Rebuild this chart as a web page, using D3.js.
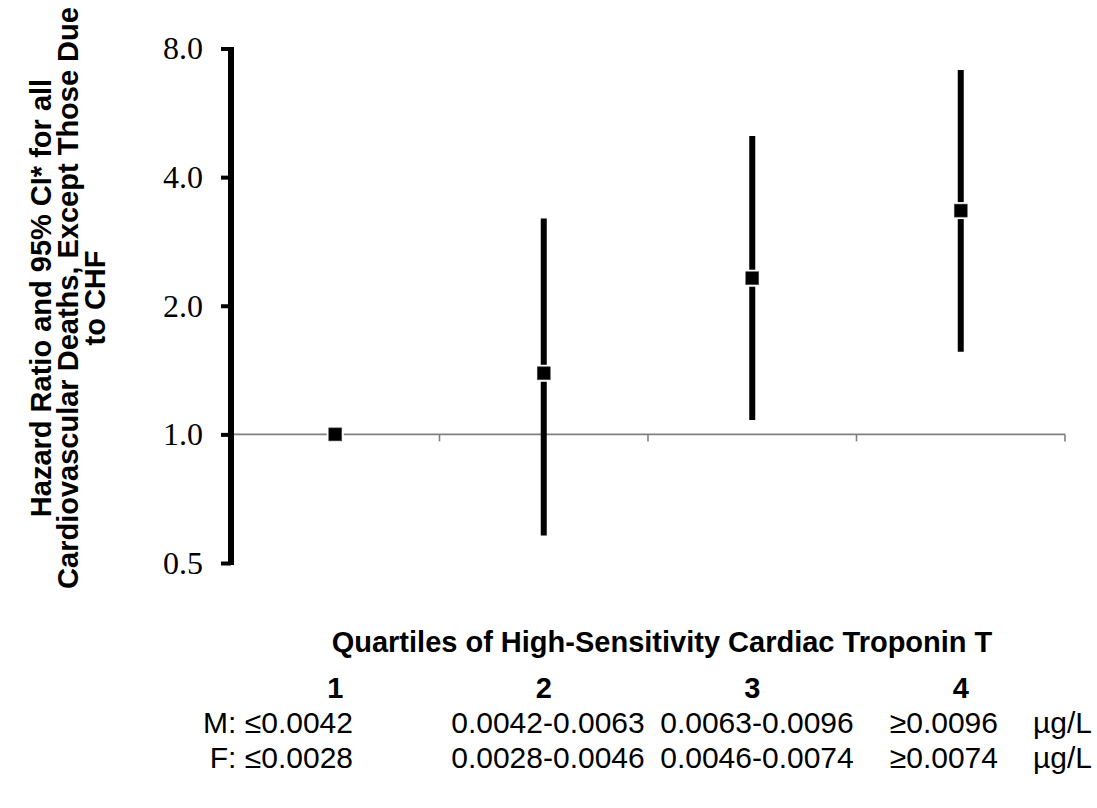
<!DOCTYPE html>
<html>
<head>
<meta charset="utf-8">
<script src="https://cdn.jsdelivr.net/npm/d3@7"></script>
<style>
  html, body { margin: 0; padding: 0; background: #fff; }
  svg { display: block; }
</style>
</head>
<body>
<svg id="chart" width="1097" height="808"></svg>
<script>
// ---- data ----
const quartiles = ["1", "2", "3", "4"];
const hazardRatio = [1.0, 1.39, 2.32, 3.34];
const ciLower = [null, 0.58, 1.08, 1.56];
const ciUpper = [null, 3.20, 4.99, 7.12];
const yTicks = [0.5, 1.0, 2.0, 4.0, 8.0];
const yTitleLines = ["Hazard Ratio and 95% CI* for all", "Cardiovascular Deaths, Except Those Due", "to CHF"];
const xTitle = "Quartiles of High-Sensitivity Cardiac Troponin T";
const maleRanges = ["M: \u22640.0042", "0.0042-0.0063", "0.0063-0.0096", "\u22650.0096"];
const femaleRanges = ["F: \u22640.0028", "0.0028-0.0046", "0.0046-0.0074", "\u22650.0074"];
const unitLabel = "\u00b5g/L";

const svg = d3.select("#chart");

const x = d3.scaleBand().domain(quartiles).range([231, 1065]).padding(0);
const y = d3.scaleLog().base(2).domain([0.5, 8]).range([563, 48.5]);

// horizontal reference (category) axis at HR = 1.0
const xAxisY = y(1.0);
const xAxis = d3.axisBottom(x).tickSize(7).tickFormat("");
const gx = svg.append("g").attr("transform", `translate(0,${xAxisY})`).call(xAxis);
gx.select(".domain").remove();
gx.selectAll(".tick").remove();
gx.append("line").attr("x1", x.range()[0]).attr("x2", x.range()[1])
  .attr("stroke", "#808080").attr("stroke-width", 1.6);
const boundaries = quartiles.map(q => x(q)).concat([x.range()[1]]);
gx.selectAll(".bnd").data(boundaries).enter().append("line")
  .attr("x1", d => d).attr("x2", d => d).attr("y1", 0).attr("y2", 7)
  .attr("stroke", "#808080").attr("stroke-width", 1.6);

// y axis
const yAxis = d3.axisLeft(y).tickValues(yTicks).tickSize(10).tickFormat(d3.format(".1f")).tickPadding(18);
const gy = svg.append("g").attr("transform", "translate(231,0)").call(yAxis);
gy.select(".domain").attr("d", `M0,${y(8) - 1.5}V${y(0.5) + 2}`)
  .attr("stroke", "#000").attr("stroke-width", 6);
gy.selectAll(".tick line").attr("stroke", "#000").attr("stroke-width", 4).attr("x2", -10);
gy.selectAll(".tick text")
  .attr("font-family", "'Liberation Serif', 'Times New Roman', serif")
  .attr("font-size", 32).attr("fill", "#000");

// error bars
const cx = q => x(q) + x.bandwidth() / 2;
const ci = quartiles.map((q, i) => ({ q, lo: ciLower[i], hi: ciUpper[i], hr: hazardRatio[i] }));
svg.append("g").selectAll("line").data(ci.filter(d => d.lo != null)).enter().append("line")
  .attr("x1", d => cx(d.q)).attr("x2", d => cx(d.q))
  .attr("y1", d => y(d.hi)).attr("y2", d => y(d.lo))
  .attr("stroke", "#000").attr("stroke-width", 6);

// markers
const mk = svg.append("g");
mk.selectAll("rect.bg").data(ci).enter().append("rect")
  .attr("x", d => cx(d.q) - 8.5).attr("y", d => y(d.hr) - 8.5)
  .attr("width", 17).attr("height", 17).attr("fill", "#fff");
mk.selectAll("rect.m").data(ci).enter().append("rect")
  .attr("x", d => cx(d.q) - 6.5).attr("y", d => y(d.hr) - 6.5)
  .attr("width", 13).attr("height", 13).attr("fill", "#000")
  .attr("stroke", "#555").attr("stroke-width", 0.6);

// y title
const yt = svg.append("text")
  .attr("transform", "translate(0,298) rotate(-90)")
  .attr("text-anchor", "middle")
  .attr("font-family", "'Liberation Sans', Arial, sans-serif")
  .attr("font-weight", "bold").attr("font-size", 29).attr("fill", "#000");
yTitleLines.forEach((t, i) => {
  yt.append("tspan").attr("x", 0).attr("y", 51 + i * 27).text(t);
});

// x title
svg.append("text").attr("x", 662).attr("y", 652)
  .attr("text-anchor", "middle")
  .attr("font-family", "'Liberation Sans', Arial, sans-serif")
  .attr("font-weight", "bold").attr("font-size", 29).attr("fill", "#000")
  .text(xTitle);

// quartile numbers
svg.append("g").selectAll("text").data(quartiles).enter().append("text")
  .attr("x", d => cx(d)).attr("y", 698)
  .attr("text-anchor", "middle")
  .attr("font-family", "'Liberation Sans', Arial, sans-serif")
  .attr("font-weight", "bold").attr("font-size", 29).attr("fill", "#000")
  .text(d => d);

// ranges table
const colAnchor = [353, 548, 757, 998];
const colAlign = ["end", "middle", "middle", "end"];
function rangeRow(vals, yy) {
  const g = svg.append("g")
    .attr("font-family", "'Liberation Sans', Arial, sans-serif")
    .attr("font-size", 30).attr("fill", "#000");
  g.selectAll("text").data(vals).enter().append("text")
    .attr("x", (d, i) => colAnchor[i]).attr("y", yy)
    .attr("text-anchor", (d, i) => colAlign[i]).text(d => d);
  g.append("text").attr("x", 1033).attr("y", yy).text(unitLabel);
}
rangeRow(maleRanges, 733);
rangeRow(femaleRanges, 768);
</script>
</body>
</html>
